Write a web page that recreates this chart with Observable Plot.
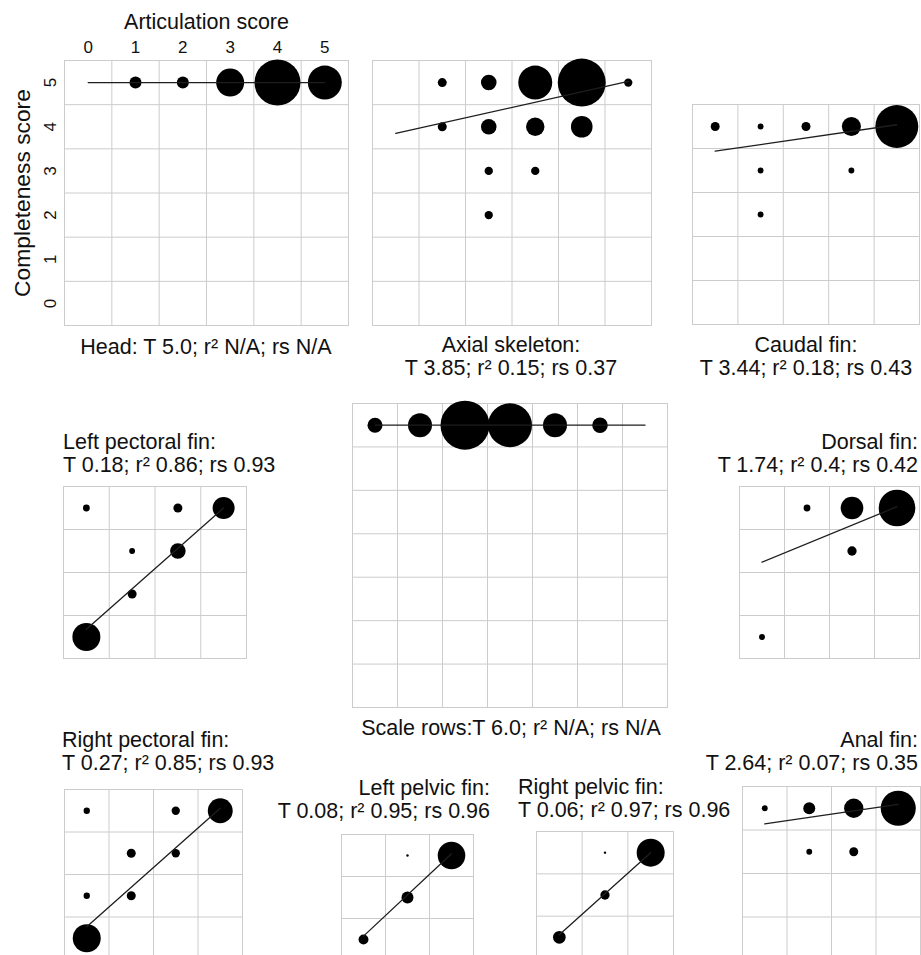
<!DOCTYPE html>
<html><head><meta charset="utf-8">
<script src="https://cdn.jsdelivr.net/npm/d3@7"></script>
<script src="https://cdn.jsdelivr.net/npm/@observablehq/plot@0.6"></script>
<style>
body{margin:0;background:#fff;}
#wrap{position:relative;width:921px;height:955px;overflow:hidden;background:#fff;font-family:"Liberation Sans",Arial,sans-serif;}
#wrap svg{position:absolute;}
</style></head><body><div id="wrap"></div>
<script>
// [articulation score, completeness score, count (size)]
const headPts = [[1,5,25],[2,5,25],[3,5,136],[4,5,367],[5,5,200]];
const axialPts = [[1,5,14],[2,5,42],[3,5,200],[4,5,400],[5,5,12],[1,4,14],[2,4,42],[3,4,59],[4,4,81],[2,3,12],[3,3,12],[2,2,12]];
const caudalPts = [[0,4,14],[1,4,6],[2,4,14],[3,4,63],[4,4,320],[1,3,6],[3,3,6],[1,2,6]];
const leftPecPts = [[0,3,8],[2,3,14],[3,3,84],[1,2,6],[2,2,42],[1,1,14],[0,0,136]];
const scalePts = [[0,6,39],[1,6,100],[2,6,417],[3,6,336],[4,6,100],[5,6,42]];
const dorsalPts = [[1,3,8],[2,3,89],[3,3,233],[2,2,15],[0,0,6]];
const rightPecPts = [[0,3,7],[2,3,12],[3,3,108],[1,2,14],[2,2,12],[0,1,7],[1,1,14],[0,0,136]];
const leftPelPts = [[1,2,1],[2,2,132],[1,1,25],[0,0,17]];
const rightPelPts = [[1,2,1],[2,2,136],[1,1,15],[0,0,28]];
const analPts = [[0,3,6],[1,3,25],[2,3,65],[3,3,213],[1,2,6],[2,2,14]];

// regression fits: [intercept T, slope]
const headFit = [5.0, 0];
const axialFit = [3.85, 0.235];
const caudalFit = [3.44, 0.15];
const leftPecFit = [0.18, 0.94];
const scaleFit = [6.0, 0];
const dorsalFit = [1.74, 0.43];
const rightPecFit = [0.27, 0.93];
const leftPelFit = [0.08, 0.98];
const rightPelFit = [0.06, 0.97];
const analFit = [2.64, 0.15];

const scoreTicks = [0,1,2,3,4,5];
const xTitle = "Articulation score";
const yTitle = "Completeness score";

const headCap = ["Head: T 5.0; r² N/A; rs N/A"];
const axialCap = ["Axial skeleton:", "T 3.85; r² 0.15; rs 0.37"];
const caudalCap = ["Caudal fin:", "T 3.44; r² 0.18; rs 0.43"];
const leftPecCap = ["Left pectoral fin:", "T 0.18; r² 0.86; rs 0.93"];
const scaleCap = ["Scale rows:T 6.0; r² N/A; rs N/A"];
const dorsalCap = ["Dorsal fin:", "T 1.74; r² 0.4; rs 0.42"];
const rightPecCap = ["Right pectoral fin:", "T 0.27; r² 0.85; rs 0.93"];
const leftPelCap = ["Left pelvic fin:", "T 0.08; r² 0.95; rs 0.96"];
const rightPelCap = ["Right pelvic fin:", "T 0.06; r² 0.97; rs 0.96"];
const analCap = ["Anal fin:", "T 2.64; r² 0.07; rs 0.35"];

const panels = [
  {pts: headPts, fit: headFit, cols: 6, rows: 6, box: [64, 60, 348, 325], head: true,
   cap: headCap, cx: 206, cy: 354, anchor: "middle"},
  {pts: axialPts, fit: axialFit, cols: 6, rows: 6, box: [372, 60, 651, 325],
   cap: axialCap, cx: 511, cy: 352, anchor: "middle"},
  {pts: caudalPts, fit: caudalFit, cols: 5, rows: 5, box: [692, 104, 919, 324],
   cap: caudalCap, cx: 806, cy: 352, anchor: "middle"},
  {pts: leftPecPts, fit: leftPecFit, cols: 4, rows: 4, box: [63, 486, 246, 658],
   cap: leftPecCap, cx: 63, cy: 449, anchor: "start"},
  {pts: scalePts, fit: scaleFit, cols: 7, rows: 7, box: [352, 403, 667, 707],
   cap: scaleCap, cx: 511, cy: 735, anchor: "middle"},
  {pts: dorsalPts, fit: dorsalFit, cols: 4, rows: 4, box: [739, 486, 919, 658],
   cap: dorsalCap, cx: 918, cy: 449, anchor: "end"},
  {pts: rightPecPts, fit: rightPecFit, cols: 4, rows: 4, box: [64, 789, 242, 959],
   cap: rightPecCap, cx: 62, cy: 747, anchor: "start"},
  {pts: leftPelPts, fit: leftPelFit, cols: 3, rows: 3, box: [341, 834, 473, 960],
   cap: leftPelCap, cx: 490, cy: 795, anchor: "end"},
  {pts: rightPelPts, fit: rightPelFit, cols: 3, rows: 3, box: [536, 831, 673, 958],
   cap: rightPelCap, cx: 518, cy: 794, anchor: "start"},
  {pts: analPts, fit: analFit, cols: 4, rows: 4, box: [742, 786, 920, 960],
   cap: analCap, cx: 918, cy: 747, anchor: "end"}
];

const wrap = document.getElementById("wrap");
const gridColor = "#cccccc";
const FONT = "'Liberation Sans', Arial, sans-serif";

for (const p of panels) {
  const [l, t, r, b] = p.box;
  const m = 30;
  const ml = p.head ? l : m, mt = p.head ? t : m;
  const left = p.head ? 0 : l - m, top = p.head ? 0 : t - m;
  const W = (r - l) + ml + m, H = (b - t) + mt + m;
  const data = p.pts.map(([x, y, n]) => ({x, y, n}));
  const xmax = p.cols - 1;
  const lineData = [{x: 0, y: p.fit[0]}, {x: xmax, y: p.fit[0] + p.fit[1] * xmax}];
  const marks = [
    Plot.gridX(d3.range(0.5, p.cols - 0.5), {stroke: gridColor, strokeOpacity: 1, strokeWidth: 1}),
    Plot.gridY(d3.range(0.5, p.rows - 0.5), {stroke: gridColor, strokeOpacity: 1, strokeWidth: 1}),
    Plot.frame({stroke: gridColor, strokeWidth: 1}),
    Plot.dot(data, {x: "x", y: "y", r: "n", fill: "black", stroke: null}),
    Plot.line(lineData, {x: "x", y: "y", stroke: "#1e1e1e", strokeWidth: 1.3})
  ];
  if (p.head) {
    const tt = {textAnchor: "middle", lineAnchor: "middle", fill: "#111"};
    marks.push(
      Plot.text(scoreTicks, {...tt, x: d => d, text: d => String(d), frameAnchor: "top", dy: -12.5, fontSize: 17}),
      Plot.text(scoreTicks, {...tt, y: d => d, text: d => String(d), frameAnchor: "left", dx: -14, rotate: -90, fontSize: 17}),
      Plot.text([xTitle], {...tt, text: d => d, frameAnchor: "top", dy: -38.5, fontSize: 21.5}),
      Plot.text([yTitle], {...tt, text: d => d, frameAnchor: "left", dx: -42, rotate: -90, fontSize: 22.8})
    );
  }
  const svg = Plot.plot({
    width: W, height: H,
    marginLeft: ml, marginTop: mt, marginRight: m, marginBottom: m,
    x: {domain: [-0.5, p.cols - 0.5], axis: null},
    y: {domain: [-0.5, p.rows - 0.5], axis: null},
    r: {type: "sqrt", domain: [0, 400], range: [0, 24]},
    style: {background: "transparent", overflow: "visible", fontFamily: FONT},
    marks
  });
  svg.style.left = left + "px";
  svg.style.top = top + "px";
  svg.style.maxWidth = "none";
  wrap.appendChild(svg);
}

// captions overlay
const overlay = d3.create("svg").attr("width", 921).attr("height", 955)
  .style("left", "0px").style("top", "0px").style("pointer-events", "none")
  .style("font-family", FONT);
for (const p of panels) {
  p.cap.forEach((line, i) => {
    overlay.append("text")
      .attr("x", p.cx).attr("y", p.cy + i * 23)
      .attr("text-anchor", p.anchor)
      .attr("font-size", 21.5)
      .attr("fill", "#111")
      .text(line);
  });
}
wrap.appendChild(overlay.node());
</script></body></html>
